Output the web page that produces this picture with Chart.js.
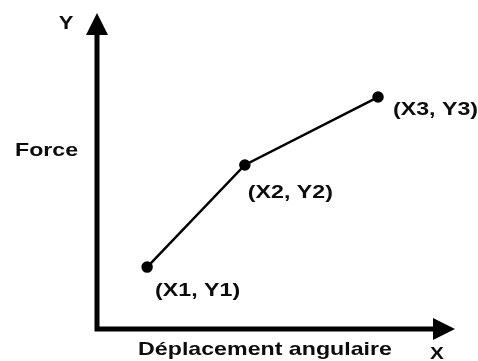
<!DOCTYPE html>
<html>
<head>
<meta charset="utf-8">
<script src="https://cdn.jsdelivr.net/npm/chart.js@4.4.1/dist/chart.umd.min.js"></script>
<style>
    body { margin: 0; background: #fff; }
    #wrap { width: 478px; height: 361px; position: relative; }
</style>
</head>
<body>
<div id="wrap"><canvas id="myChart"></canvas></div>
<script>
const xValues = [14.0, 41.3, 78.5];
const yValues = [19.6, 51.9, 73.4];
const pointLabels = ['(X1, Y1)', '(X2, Y2)', '(X3, Y3)'];
const xTitle = 'Déplacement angulaire';
const yTitle = 'Force';

// where each point label sits relative to its point
const labelOffsets = [[8, 24], [3, 28], [15, 13]];

const ink = '#0c0c0c';

function stretchedText(ctx, text, x, y, size, align) {
    const sx = 1.22;
    ctx.save();
    ctx.font = 'bold ' + size + 'px "Liberation Sans", Arial, sans-serif';
    ctx.fillStyle = ink;
    ctx.textBaseline = 'middle';
    ctx.textAlign = 'left';
    const w = ctx.measureText(text).width * sx;
    let left = x;
    if (align === 'center') left = x - w / 2;
    ctx.translate(left, y);
    ctx.scale(sx, 1);
    ctx.fillText(text, 0, 0);
    ctx.restore();
}

const axesPlugin = {
    id: 'arrowAxes',
    beforeDatasetsDraw(chart) {
        const ctx = chart.ctx;
        const area = chart.chartArea;
        const x0 = chart.scales.x.getPixelForValue(0);
        const y0 = chart.scales.y.getPixelForValue(0);
        const head = 22, half = 11;

        ctx.save();
        ctx.strokeStyle = '#000';
        ctx.fillStyle = '#000';
        ctx.lineWidth = 5;
        ctx.lineCap = 'butt';

        ctx.beginPath();
        ctx.moveTo(x0, y0 + 2.5);
        ctx.lineTo(x0, area.top + head);
        ctx.moveTo(x0 - 2.5, y0);
        ctx.lineTo(area.right - head, y0);
        ctx.stroke();

        // arrow heads
        ctx.beginPath();
        ctx.moveTo(x0, area.top);
        ctx.lineTo(x0 - half, area.top + head);
        ctx.lineTo(x0 + half, area.top + head);
        ctx.closePath();
        ctx.fill();

        ctx.beginPath();
        ctx.moveTo(area.right, y0);
        ctx.lineTo(area.right - head, y0 - half);
        ctx.lineTo(area.right - head, y0 + half);
        ctx.closePath();
        ctx.fill();
        ctx.restore();

        stretchedText(ctx, 'Y', x0 - 31, area.top + 11, 18, 'center');
        stretchedText(ctx, 'X', area.right - 18, y0 + 25, 17, 'center');
        stretchedText(ctx, yTitle, 15, 151, 19, 'left');
        stretchedText(ctx, xTitle, 265, y0 + 21, 19, 'center');
    },
    afterDatasetsDraw(chart) {
        const meta = chart.getDatasetMeta(0);
        meta.data.forEach((pt, i) => {
            const off = labelOffsets[i];
            stretchedText(chart.ctx, pointLabels[i], pt.x + off[0], pt.y + off[1], 19, 'left');
        });
    }
};

const data = {
    datasets: [{
        data: xValues.map((x, i) => ({ x: x, y: yValues[i] })),
        showLine: true,
        borderColor: '#000',
        borderWidth: 2.5,
        backgroundColor: '#000',
        pointRadius: 4.5,
        pointHoverRadius: 4.5,
        clip: false
    }]
};

const config = {
    type: 'scatter',
    data: data,
    options: {
        responsive: true,
        maintainAspectRatio: false,
        animation: false,
        events: [],
        layout: {
            padding: { left: 97, right: 23, top: 13, bottom: 32 }
        },
        plugins: {
            legend: { display: false },
            tooltip: { enabled: false }
        },
        scales: {
            x: { type: 'linear', min: 0, max: 100, display: false },
            y: { type: 'linear', min: 0, max: 100, display: false }
        }
    },
    plugins: [axesPlugin]
};

const ctx = document.getElementById('myChart').getContext('2d');
new Chart(ctx, config);
</script>
</body>
</html>
